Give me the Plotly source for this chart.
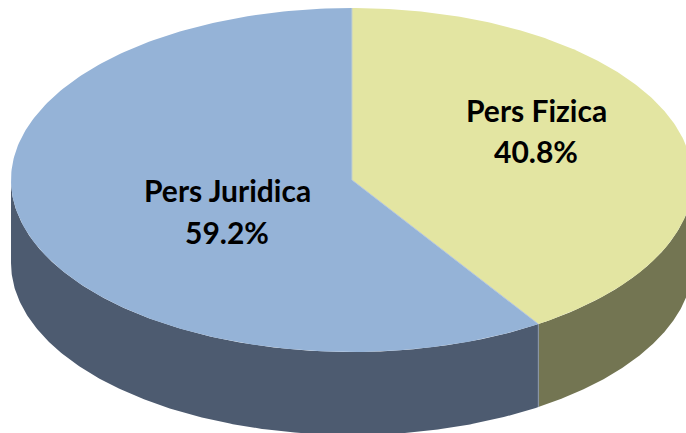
import numpy as np
import plotly.graph_objects as go

labels = ["Pers Fizica", "Pers Juridica"]
values = [40.8, 59.2]

top_colors = ["#e3e5a2", "#95b3d7"]
side_colors = ["#737552", "#4d5b70"]
label_pos = [(536, 110, 151), (227, 190, 232)]

W, H = 686, 433
CX, CY, RX, RY, DEPTH = 352, 180, 341, 172, 83


def rim(a0, a1):
    t = np.radians(np.linspace(a0, a1, 240))
    return CX + RX * np.sin(t), CY - RY * np.cos(t)


fig = go.Figure()
angles = np.concatenate([[0], np.cumsum(values) / sum(values) * 360])

# walls, only where the rim faces the viewer (90..270 degrees clockwise from top)
for i in range(len(values)):
    a0, a1 = max(angles[i], 90), min(angles[i + 1], 270)
    if a1 > a0:
        x, y = rim(a0, a1)
        fig.add_trace(go.Scatter(
            x=np.concatenate([x, x[::-1]]),
            y=np.concatenate([y, y[::-1] + DEPTH]),
            mode="lines", fill="toself", fillcolor=side_colors[i],
            line=dict(width=0), hoverinfo="skip", showlegend=False))

# top slices
for i in range(len(values)):
    x, y = rim(angles[i], angles[i + 1])
    fig.add_trace(go.Scatter(
        x=np.concatenate([[CX], x, [CX]]),
        y=np.concatenate([[CY], y, [CY]]),
        mode="lines", fill="toself", fillcolor=top_colors[i],
        line=dict(width=0), hoverinfo="skip", showlegend=False))

# thin light seams between the slices
for a, c in zip(angles[:2], ["#c3d0cc", "#b5c6dc"]):
    x, y = rim(a, a + 1e-6)
    fig.add_trace(go.Scatter(
        x=[CX, x[0]], y=[CY, y[0]], mode="lines",
        line=dict(width=1, color=c), hoverinfo="skip", showlegend=False))
x, y = rim(angles[1], angles[1] + 1e-6)
fig.add_trace(go.Scatter(
    x=[x[0], x[0]], y=[y[0], y[0] + DEPTH], mode="lines",
    line=dict(width=1, color="#8b99ad"), hoverinfo="skip", showlegend=False))

for lab, val, (px, py1, py2) in zip(labels, values, label_pos):
    for txt, py in ((lab, py1), (f"{val:.1f}%", py2)):
        fig.add_annotation(
            x=px, y=py, xref="x", yref="y", showarrow=False,
            text=f"<b>{txt}</b>", align="center",
            font=dict(family="Lato, Carlito, sans-serif", size=30, color="#000000"))

fig.update_layout(
    width=W, height=H, autosize=False,
    margin=dict(l=0, r=0, t=0, b=0),
    paper_bgcolor="white", plot_bgcolor="white", showlegend=False,
    xaxis=dict(range=[0, W], visible=False, fixedrange=True),
    yaxis=dict(range=[H, 0], visible=False, fixedrange=True))

fig.write_html(
    "out.html", config={"displayModeBar": False},
    post_script="document.body.style.margin='0';document.body.style.overflow='hidden';")
